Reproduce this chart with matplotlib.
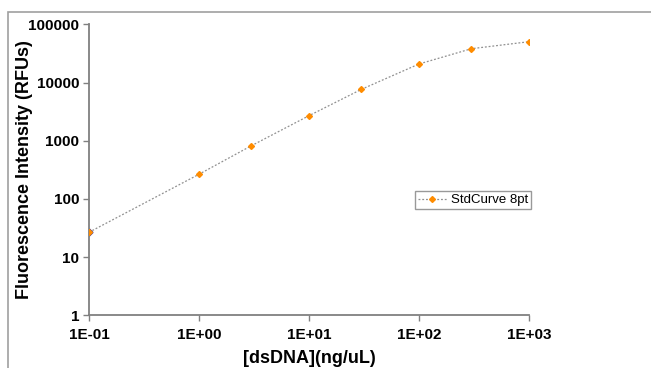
import numpy as np
import matplotlib
matplotlib.use("Agg")
import matplotlib.pyplot as plt
from matplotlib.patches import Rectangle

plt.rcParams['font.family'] = ['Liberation Sans', 'DejaVu Sans']

conc = [0.1, 1, 3, 10, 30, 100, 300, 1000]
rfu = [26.7, 265, 821, 2690, 7640, 20800, 38100, 50200]
xticks = [0.1, 1, 10, 100, 1000]
xlabels = ["1E-01", "1E+00", "1E+01", "1E+02", "1E+03"]
yticks = [1, 10, 100, 1000, 10000, 100000]
ylabels = ["1", "10", "100", "1000", "10000", "100000"]

fig = plt.figure(figsize=(6.51, 3.68), dpi=100)
ax = fig.add_axes([89 / 651, 1 - 315.3 / 368, 440 / 651, 291 / 368])

ax.plot(conc[:1], rfu[:1], marker="D", ms=3.5, color="#3333aa", ls="none", zorder=2)
ax.errorbar(conc, rfu, xerr=[np.array(conc) * 0.05, np.array(conc) * 0.05],
            fmt="none", ecolor="#555555", elinewidth=0.8, zorder=2)
ax.plot(conc, rfu, ls=(0, (1.5, 1.5)), lw=0.9, color="#909090",
        marker="D", ms=3, mfc="#ff8c00", mec="#ff8c00", label="StdCurve 8pt", zorder=3)

ax.set_xscale("log")
ax.set_yscale("log")
ax.set_xlim(0.1, 1000)
ax.set_ylim(1, 100000)
ax.set_xticks(xticks)
ax.set_xticklabels(xlabels)
ax.set_yticks(yticks)
ax.set_yticklabels(ylabels)
ax.minorticks_off()
for lab in ax.get_xticklabels() + ax.get_yticklabels():
    lab.set_fontweight("bold")
    lab.set_fontsize(11)
ax.tick_params(axis="both", direction="out", length=4, width=1, color="#808080", pad=3)
ax.tick_params(axis="x", pad=5)

for s in ["top", "right"]:
    ax.spines[s].set_visible(False)
for s in ["left", "bottom"]:
    ax.spines[s].set_color("#808080")
    ax.spines[s].set_linewidth(1.3)

ax.set_ylabel("Fluorescence Intensity (RFUs)", fontsize=13, fontweight="bold")
ax.yaxis.set_label_coords(-0.128, 0.5)
ax.set_xlabel("[dsDNA](ng/uL)", fontsize=13, fontweight="bold", labelpad=6)

leg = ax.legend(loc="center left", bbox_to_anchor=(415 / 651, 1 - 200 / 368),
                bbox_transform=fig.transFigure, fontsize=9.5, frameon=True, fancybox=False,
                borderpad=0.2, handlelength=2.2, handletextpad=0.3, borderaxespad=0)
leg.get_frame().set_edgecolor("#808080")
leg.get_frame().set_linewidth(1.0)

fig.patches.append(Rectangle((7.5 / 651, -0.1), 1.2, 1 - 11.5 / 368 + 0.1,
                             transform=fig.transFigure, fill=False,
                             edgecolor="#a0a0a0", lw=1.2))

fig.savefig("out.png", dpi=100)
